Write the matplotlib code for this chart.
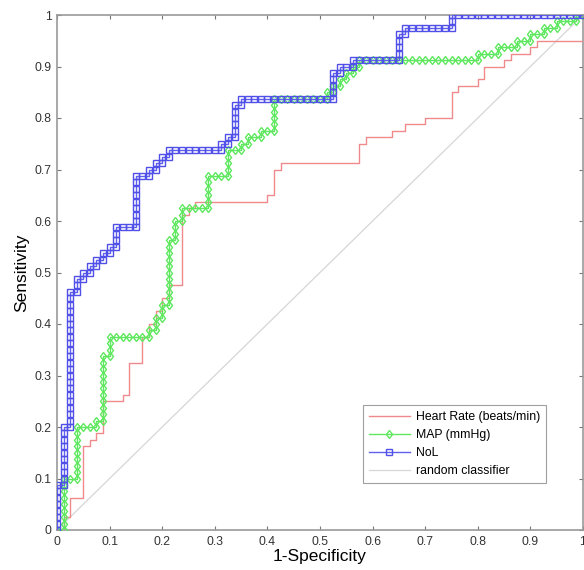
import numpy as np
import matplotlib
matplotlib.use("Agg")
import matplotlib.pyplot as plt

plt.rcParams['font.family'] = ['Liberation Sans', 'DejaVu Sans']

# Ranked labels (descending score) as run-lengths: 'P' = positive, 'N' = negative
N_POS = 80
N_NEG = 80

hr_runs = [("N",1),("P",2),("N",1),("P",3),("N",2),("P",8),("N",1),("P",1),("N",1),("P",1),
           ("N",1),("P",5),("N",3),("P",1),("N",1),("P",5),("N",2),("P",4),("N",1),("P",2),
           ("N",1),("P",2),("N",1),("P",2),("N",1),("P",2),("N",2),("P",11),("N",1),("P",1),
           ("N",1),("P",1),("N",11),("P",1),("N",1),("P",4),("N",1),("P",1),("N",12),("P",3),
           ("N",1),("P",1),("N",4),("P",1),("N",2),("P",1),("N",3),("P",1),("N",4),("P",4),
           ("N",1),("P",1),("N",3),("P",1),("N",1),("P",2),("N",3),("P",1),("N",1),("P",1),
           ("N",3),("P",1),("N",1),("P",1),("N",7)]

map_runs = [("N",1),("P",8),("N",2),("P",8),("N",3),("P",1),("N",1),("P",1),("P",9),("N",1),
            ("P",3),("N",5),("N",1),("P",1),("N",1),("P",2),("N",1),("P",2),("N",1),("P",2),
            ("P",8),("N",1),("P",3),("N",1),("P",2),("N",4),("P",5),("N",3),("P",4),("N",1),
            ("N",1),("P",1),("N",1),("P",1),("N",2),("P",1),("N",2),("P",5),("N",7),
            ("N",1),("P",1),("N",1),("P",1),("N",1),("P",1),("N",1),("P",1),("N",1),("P",1),
            ("N",1),("P",1),("N",1),("N",17),("P",1),("N",3),("P",1),("N",3),("P",1),("N",2),
            ("P",1),("N",2),("P",1),("N",2),("P",1),("N",3),("P",1),("N",1)]

nol_runs = [("P",7),("N",1),("P",9),("N",1),("P",21),("N",1),("P",2),("N",1),("P",1),("N",1),
            ("P",1),("N",1),("P",1),("N",1),("P",1),("N",1),("P",1),("N",1),("P",3),("N",3),
            ("P",8),("N",2),("P",1),("N",1),("P",1),("N",1),("P",1),("N",1),("P",1),("N",7),
            ("N",1),("P",1),("N",1),("P",1),("N",1),("P",5),("N",1),("P",1),("N",14),("P",4),
            ("N",1),("P",1),("N",2),("P",1),("N",1),("N",6),("P",4),("N",1),("P",1),("N",7),
            ("P",2),("N",20)]

labels_legend = ["Heart Rate (beats/min)", "MAP (mmHg)", "NoL", "random classifier"]
x_ticks = [0, 0.1, 0.2, 0.3, 0.4, 0.5, 0.6, 0.7, 0.8, 0.9, 1]
x_tick_labels = ["0", "0.1", "0.2", "0.3", "0.4", "0.5", "0.6", "0.7", "0.8", "0.9", "1"]
random_x = [0, 1]
random_y = [0, 1]


def roc_from_runs(runs):
    seq = "".join(lab * n for lab, n in runs)
    tp = np.concatenate([[0], np.cumsum([c == "P" for c in seq])])
    fp = np.concatenate([[0], np.cumsum([c == "N" for c in seq])])
    return fp / N_NEG, tp / N_POS


fig = plt.figure(figsize=(5.84, 5.70), dpi=100)
ax = fig.add_axes([57/584, 40/570, 526/584, 515/570])

hx, hy = roc_from_runs(hr_runs)
mx, my = roc_from_runs(map_runs)
nx, ny = roc_from_runs(nol_runs)

ax.plot(hx, hy, color="#f08a8a", lw=1.0, label=labels_legend[0], zorder=3)
ax.plot(mx, my, color="#5fe85f", lw=1.0, marker="d", ms=4.5, mfc="none", mec="#5fe85f",
        mew=1.0, label=labels_legend[1], zorder=4)
ax.plot(nx, ny, color="#6060ee", lw=1.0, marker="s", ms=4.5, mfc="none", mec="#5050e8",
        mew=1.0, label=labels_legend[2], zorder=5)
ax.plot(random_x, random_y, color="#d6d6d6", lw=0.9, label=labels_legend[3], zorder=2)

ax.set_xlim(0, 1)
ax.set_ylim(0, 1)
ax.set_xticks(x_ticks)
ax.set_xticklabels(x_tick_labels)
ax.set_yticks(x_ticks)
ax.set_yticklabels(x_tick_labels)
ax.tick_params(direction="in", length=3, width=0.8, colors="#777777", labelcolor="#333333",
               labelsize=8.8, top=True, right=True, pad=4)
for s in ax.spines.values():
    s.set_color("#999999")
    s.set_linewidth(1.2)

ax.set_xlabel("1-Specificity", fontsize=12.5, labelpad=1)
ax.set_ylabel("Sensitivity", fontsize=12.5, labelpad=4)

leg = ax.legend(loc="upper left", bbox_to_anchor=(0.582, 0.243), borderaxespad=0,
                fontsize=8.8, handlelength=3.3, labelspacing=0.5, frameon=True,
                fancybox=False, edgecolor="#888888", borderpad=0.5, handletextpad=0.5)
leg.get_frame().set_linewidth(0.8)

fig.savefig("out.png", dpi=100)
